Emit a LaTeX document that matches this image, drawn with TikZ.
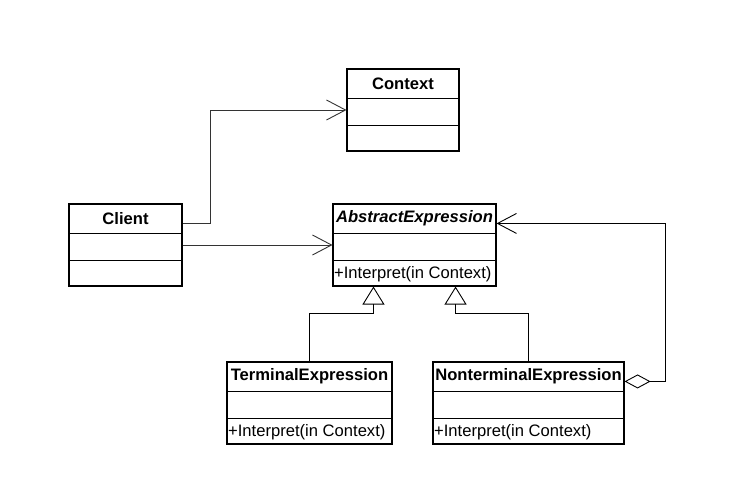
\documentclass[tikz,border=0pt]{standalone}
\usepackage{fontspec}
\setmainfont{Liberation Sans}
\usepackage{tikz}
\usetikzlibrary{arrows.meta}
\tikzset{
  classbox/.style={draw, line width=1.1pt, minimum height=82pt, inner sep=0pt},
  classname/.style={font=\fontsize{16.6}{18}\selectfont\bfseries, minimum height=30pt, inner sep=0pt, anchor=north},
  classop/.style={font=\fontsize{16.6}{18}\selectfont, inner sep=1.5pt, anchor=west},
  assoc/.style={line width=0.9pt, draw=black!80, -{Straight Barb[length=19pt,width=20pt]}},
  inherit/.style={line width=0.9pt, -{Triangle[open,length=18pt,width=22pt]}},
  aggr/.style={line width=0.9pt, {Diamond[open,length=26pt,width=14pt]}-{Straight Barb[length=19pt,width=20pt]}}
}
% name, x, y, width, title, operation
\newcommand{\umlclass}[6]{
  \node[classbox, minimum width=#4] (#1) at (#2,#3) {};
  \draw[line width=1.1pt] ([yshift=-30pt]#1.north west) -- ([yshift=-30pt]#1.north east);
  \draw[line width=1.1pt] ([yshift=-57pt]#1.north west) -- ([yshift=-57pt]#1.north east);
  \node[classname] (#1-name) at (#1.north) {#5};
  \node[classop] (#1-op) at ([yshift=12.5pt]#1.south west) {#6};
}

\begin{document}
\begin{tikzpicture}[x=1pt, y=-1pt]
\useasboundingbox (0,0) rectangle (739,486);
% classes
\umlclass{context}{403}{110}{112}{Context}{}
\umlclass{client}{125.5}{245}{113}{Client}{}
\umlclass{abstract}{414.5}{245}{163}{\itshape AbstractExpression}{+Interpret(in Context)}
\umlclass{terminal}{309.5}{403}{165}{TerminalExpression}{+Interpret(in Context)}
\umlclass{nonterminal}{528.5}{403}{191}{NonterminalExpression}{+Interpret(in Context)}
% associations
\draw[assoc] ([yshift=-20pt]client.north east) -- ++(28,0) |- (context.west);
\draw[assoc] (client.east) -- (abstract.west);
% inheritance
\draw[inherit] (terminal.north) -- ++(0,-48) -| ([xshift=41pt]abstract.south west);
\draw[inherit] (nonterminal.north) -- ++(0,-48) -| ([xshift=-41pt]abstract.south east);
% aggregation
\draw[aggr] ([yshift=-20pt]nonterminal.north east) -- ++(41,0) |- ([yshift=-20pt]abstract.north east);
\end{tikzpicture}
\end{document}
